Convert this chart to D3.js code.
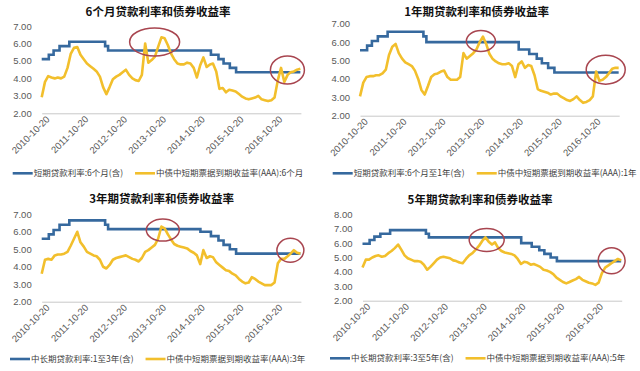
<!DOCTYPE html>
<html>
<head>
<meta charset="utf-8">
<script src="https://cdn.jsdelivr.net/npm/d3@7"></script>
<style>
  body { margin: 0; background: #fff; }
</style>
</head>
<body>
<div id="chart"></div>
<script>
// 贷款基准利率调整日期 (最后一个点只是把线画到图的末端)
var loanDates = ["2010-10-20", "2010-12-26", "2011-02-09", "2011-04-06", "2011-07-07", "2012-06-08",
                 "2012-07-06", "2014-11-22", "2015-03-01", "2015-05-11", "2015-06-28", "2015-08-26",
                 "2015-10-24", "2017-06-20"];
var loan6m = [5.10, 5.35, 5.60, 5.85, 6.10, 5.85, 5.60, 5.60, 5.35, 5.10, 4.85, 4.60, 4.35, 4.35];
var loan1y = [5.56, 5.81, 6.06, 6.31, 6.56, 6.31, 6.00, 5.60, 5.35, 5.10, 4.85, 4.60, 4.35, 4.35];
var loan3y = [5.60, 5.85, 6.10, 6.40, 6.65, 6.40, 6.15, 6.00, 5.75, 5.50, 5.25, 5.00, 4.75, 4.75];
var loan5y = [5.96, 6.22, 6.45, 6.65, 6.90, 6.65, 6.40, 6.00, 5.75, 5.50, 5.25, 5.00, 4.75, 4.75];

// 中债中短期票据到期收益率(AAA), 2010-10-20 起每月一个点
var yieldStart = "2010-10-20";
var yield6m = [2.92, 3.80, 4.13, 4.05, 4.00, 4.05, 4.00, 4.10, 4.60, 5.40,
               5.75, 5.80, 5.35, 5.10, 4.85, 4.70, 4.55, 4.40, 4.10, 3.50,
               3.10, 3.50, 3.95, 4.10, 4.20, 4.35, 4.50, 4.20, 4.00, 3.90,
               3.85, 4.20, 6.00, 4.90, 5.05, 5.25, 5.80, 6.35, 6.30, 5.90,
               5.40, 5.10, 4.85, 4.80, 4.80, 4.90, 4.85, 4.60, 4.05, 4.75,
               5.20, 4.65, 4.80, 4.85, 4.40, 3.40, 3.45, 3.20, 3.35, 3.30,
               3.25, 3.10, 2.95, 2.85, 2.80, 2.85, 2.90, 3.00, 2.80, 2.75,
               2.70, 2.75, 2.90, 3.90, 4.60, 3.80, 4.20, 4.35, 4.40, 4.50,
               4.55];
var yield1y = [3.05, 3.80, 4.10, 4.15, 4.15, 4.20, 4.20, 4.30, 4.50, 5.30,
               5.75, 5.90, 5.40, 5.10, 4.90, 4.80, 4.70, 4.45, 4.00, 3.40,
               3.15, 3.60, 4.10, 4.25, 4.30, 4.40, 4.45, 4.10, 3.95, 3.95,
               3.95, 4.10, 5.40, 5.10, 5.25, 5.40, 5.60, 6.00, 6.30, 5.90,
               5.35, 5.10, 4.95, 4.85, 4.80, 4.80, 4.85, 4.70, 4.10, 4.80,
               4.95, 4.60, 4.75, 4.70, 4.20, 3.45, 3.35, 3.30, 3.25, 3.15,
               3.20, 3.20, 3.05, 2.95, 2.85, 2.80, 2.90, 3.05, 2.85, 2.70,
               2.75, 2.85, 3.05, 4.40, 3.90, 3.95, 4.10, 4.30, 4.55, 4.60,
               4.60];
var yield3y = [3.60, 4.40, 4.45, 4.40, 4.65, 4.70, 4.70, 4.75, 4.85, 5.20,
               5.60, 6.00, 5.40, 5.15, 4.85, 4.75, 4.65, 4.60, 4.40, 4.00,
               3.90, 4.10, 4.40, 4.50, 4.55, 4.60, 4.65, 4.55, 4.45, 4.40,
               4.30, 4.50, 4.85, 4.95, 5.10, 5.25, 5.60, 6.30, 6.20, 5.85,
               5.55, 5.30, 5.20, 5.15, 5.10, 5.05, 4.90, 4.80, 4.65, 4.15,
               4.95, 4.50, 4.60, 4.55, 4.25, 4.10, 3.95, 3.80, 3.75, 3.60,
               3.50, 3.30, 3.15, 3.05, 3.10, 3.40, 3.30, 3.15, 3.05, 2.95,
               2.95, 2.95, 3.10, 4.20, 4.45, 4.45, 4.60, 4.75, 4.95, 4.80,
               4.75];
var yield5y = [4.30, 4.85, 4.85, 5.00, 5.10, 5.15, 5.05, 5.10, 5.30, 5.45,
               5.65, 5.90, 5.55, 5.15, 4.95, 4.85, 4.75, 4.75, 4.70, 4.50,
               4.15, 4.35, 4.60, 4.85, 5.00, 5.05, 5.00, 4.95, 4.80, 4.75,
               4.65, 4.60, 4.90, 5.15, 5.30, 5.55, 5.80, 6.15, 6.40, 6.10,
               5.90, 6.05, 5.65, 5.45, 5.35, 5.30, 5.25, 5.15, 4.90, 4.55,
               4.70, 4.65, 4.50, 4.55, 4.45, 4.35, 4.15, 4.10, 4.00, 3.85,
               3.60, 3.45, 3.30, 3.20, 3.30, 3.40, 3.50, 3.65, 3.45, 3.35,
               3.25, 3.20, 3.10, 3.25, 3.90, 4.30, 4.45, 4.60, 4.75, 4.90,
               4.80];

// 横轴刻度
var tickDates = ["2010-10-20", "2011-10-20", "2012-10-20", "2013-10-20", "2014-10-20", "2015-10-20", "2016-10-20"];
var axisEnd = "2017-06-25";

// 文字
var titles = ["6个月贷款利率和债券收益率", "1年期贷款利率和债券收益率", "3年期贷款利率和债券收益率", "5年期贷款利率和债券收益率"];
var loanNames = ["短期贷款利率:6个月(含)", "短期贷款利率:6个月至1年(含)", "中长期贷款利率:1至3年(含)", "中长期贷款利率:3至5年(含)"];
var yieldNames = ["中债中短期票据到期收益率(AAA):6个月", "中债中短期票据到期收益率(AAA):1年",
                  "中债中短期票据到期收益率(AAA):3年", "中债中短期票据到期收益率(AAA):5年"];

// 红圈标注的位置 (日期, 利率)
var circleDates = [["2013-09-17", "2017-02-18"], ["2013-12-01", "2017-02-18"],
                   ["2013-12-03", "2017-03-18"], ["2014-01-01", "2017-03-22"]];
var circleValues = [[6.09, 4.48], [6.06, 4.50], [6.10, 4.94], [6.22, 4.77]];

var parse = d3.timeParse("%Y-%m-%d");
var blue = "#36699e", gold = "#f2bf2c", ring = "#a8454f";

var svg = d3.select("#chart").append("svg")
  .attr("width", 640)
  .attr("height", 371);

// 每个小图的版面
var layout = [
  {left: 41.7, right: 300.9, top: 26, bottom: 113.3, ymax: 7, titleX: 158, titleY: 16, legX: 12.7, legY: 173.3, rings: [[25, 14], [17, 14]]},
  {left: 360, right: 619.2, top: 23.7, bottom: 115.7, ymax: 7, titleX: 476.7, titleY: 16, legX: 332.7, legY: 173.3, rings: [[14.5, 10.5], [19.5, 14.5]]},
  {left: 41.7, right: 300.9, top: 214.3, bottom: 301.7, ymax: 7, titleX: 161.7, titleY: 202.5, legX: 10, legY: 359, rings: [[16.5, 11], [13.5, 12]]},
  {left: 362.5, right: 621.7, top: 214.3, bottom: 300.7, ymax: 8, titleX: 480, titleY: 204, legX: 330, legY: 358.3, rings: [[17.5, 11.5], [13.5, 13]]}
];
var loans = [loan6m, loan1y, loan3y, loan5y];
var yields = [yield6m, yield1y, yield3y, yield5y];

layout.forEach(function(p, k) {
  var g = svg.append("g");

  var x = d3.scaleTime()
    .domain([parse(yieldStart), parse(axisEnd)])
    .range([p.left, p.right]);
  var y = d3.scaleLinear()
    .domain([2, p.ymax])
    .range([p.bottom, p.top]);

  // 标题
  g.append("text")
    .attr("x", p.titleX)
    .attr("y", p.titleY)
    .attr("text-anchor", "middle")
    .style("font-family", "'Noto Sans CJK SC', sans-serif")
    .style("font-weight", "bold")
    .style("font-size", "11.5px")
    .style("fill", "#111")
    .text(titles[k]);

  // 纵轴 (只有数字)
  var yAxis = g.append("g")
    .attr("transform", "translate(" + (p.left - 10) + ",0)")
    .call(d3.axisLeft(y).tickValues(d3.range(2, p.ymax + 1)).tickSize(0).tickFormat(d3.format(".2f")));
  yAxis.select(".domain").remove();
  yAxis.selectAll("text")
    .attr("x", 0)
    .style("font-family", "'Liberation Sans', Arial, sans-serif")
    .style("font-size", "9.5px")
    .style("fill", "#595959");

  // 横轴
  var xAxis = g.append("g")
    .attr("transform", "translate(0," + p.bottom + ")")
    .call(d3.axisBottom(x).tickValues(tickDates.map(parse)).tickSize(0).tickFormat(d3.timeFormat("%Y-%m-%d")));
  xAxis.select(".domain").attr("stroke", "#c8c8c8");
  xAxis.selectAll("text")
    .attr("x", 1)
    .attr("y", 7)
    .attr("dy", "0.35em")
    .attr("transform", "rotate(-45)")
    .style("text-anchor", "end")
    .style("font-family", "'Liberation Sans', Arial, sans-serif")
    .style("font-size", "9.5px")
    .style("fill", "#595959");

  // 贷款利率 (阶梯线)
  var loanData = loanDates.map(function(d, i) { return {date: parse(d), value: loans[k][i]}; });
  g.append("path")
    .datum(loanData)
    .attr("fill", "none")
    .attr("stroke", blue)
    .attr("stroke-width", 2.6)
    .attr("d", d3.line().curve(d3.curveStepAfter)
      .x(function(d) { return x(d.date); })
      .y(function(d) { return y(d.value); }));

  // 票据收益率
  var yieldData = yields[k].map(function(v, i) {
    return {date: d3.timeMonth.offset(parse(yieldStart), i), value: v};
  });
  g.append("path")
    .datum(yieldData)
    .attr("fill", "none")
    .attr("stroke", gold)
    .attr("stroke-width", 2.6)
    .attr("stroke-linejoin", "round")
    .attr("d", d3.line()
      .x(function(d) { return x(d.date); })
      .y(function(d) { return y(d.value); }));

  // 红圈
  circleDates[k].forEach(function(d, j) {
    g.append("ellipse")
      .attr("cx", x(parse(d)))
      .attr("cy", y(circleValues[k][j]))
      .attr("rx", p.rings[j][0])
      .attr("ry", p.rings[j][1])
      .attr("fill", "none")
      .attr("stroke", ring)
      .attr("stroke-width", 1.5);
  });

  // 图例
  var leg = g.append("g").attr("transform", "translate(" + p.legX + "," + p.legY + ")");
  leg.append("line").attr("x1", 0).attr("x2", 20).attr("stroke", blue).attr("stroke-width", 2.6);
  var t1 = leg.append("text")
    .attr("x", 21)
    .attr("dy", "0.35em")
    .style("font-family", "'Noto Sans CJK SC', sans-serif")
    .style("font-size", "8.5px")
    .style("fill", "#404040")
    .text(loanNames[k]);
  var x2 = 21 + t1.node().getComputedTextLength() + 12;
  leg.append("line").attr("x1", x2).attr("x2", x2 + 20).attr("stroke", gold).attr("stroke-width", 2.6);
  leg.append("text")
    .attr("x", x2 + 21)
    .attr("dy", "0.35em")
    .style("font-family", "'Noto Sans CJK SC', sans-serif")
    .style("font-size", "8.5px")
    .style("fill", "#404040")
    .text(yieldNames[k]);
});
</script>
</body>
</html>
